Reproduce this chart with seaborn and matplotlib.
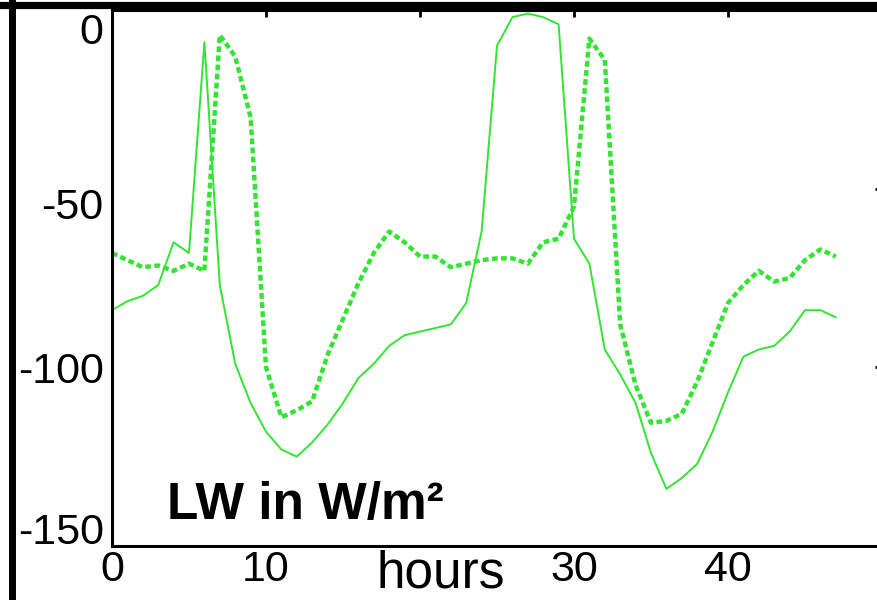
import matplotlib
matplotlib.use("Agg")
import matplotlib.pyplot as plt
import matplotlib.transforms as mtransforms
from matplotlib.lines import Line2D
import pandas as pd
import seaborn as sns

# Hourly longwave flux (W/m^2) for the two runs
hours = list(range(48))
lw_solid = [-84, -81.5, -80, -77, -65, -68, -9, -77, -99, -110,
            -118, -123, -125, -121, -116, -110, -103, -99, -94, -91,
            -90, -89, -88, -82, -62, -10, -2, -1, -2, -4,
            -64, -71, -95, -102, -110, -124, -134, -131, -127, -118,
            -107, -97, -95, -94, -90, -84, -84, -86]
lw_dotted = [-68, -70, -72, -71.5, -73, -71, -73, -7, -13, -30,
             -100, -114, -112, -109.5, -96.5, -86.5, -76.5, -68, -62, -65,
             -69, -69, -72, -71, -70, -69.5, -69.5, -71, -65, -64,
             -55, -8, -14, -88, -105, -115.5, -115, -113, -104, -93,
             -82, -77, -73, -76, -75, -70, -67, -69]

x_ticks = [0, 10, 20, 30, 40]
x_tick_labels = ["0", "10", "", "30", "40"]
y_ticks = [0, -50, -100, -150]
y_tick_labels = ["0", "-50", "-100", "-150"]

sns.set_theme(style="white")
plt.rcParams["font.family"] = ["Liberation Sans", "DejaVu Sans"]
plt.rcParams.update({"text.color": "black", "xtick.color": "black",
                     "ytick.color": "black", "axes.labelcolor": "black"})

W, H = 878, 600
fig = plt.figure(figsize=(W / 100, H / 100), dpi=100)
ax = fig.add_axes([112 / W, 54 / H, 770 / W, 536 / H])

green = "#33e433"
df = pd.DataFrame({"hour": hours, "solid": lw_solid, "dotted": lw_dotted})
sns.lineplot(data=df, x="hour", y="solid", ax=ax, color=green, lw=1.4)
sns.lineplot(data=df, x="hour", y="dotted", ax=ax, color=green, lw=3.2,
             dashes=(1.3, 0.75))
for ln in ax.get_lines()[1:]:
    ln.set_dash_capstyle("butt")

ax.set_xlim(0, 50)
ax.set_ylim(-150, 0)
ax.set_xlabel("")
ax.set_ylabel("")

ax.set_xticks(x_ticks)
ax.set_xticklabels(x_tick_labels)
ax.set_yticks(y_ticks)
ax.set_yticklabels(y_tick_labels)

ax.tick_params(axis="both", direction="in", length=5, width=2, color="black",
               labelcolor="black", top=True, right=True)
ax.tick_params(axis="x", labelsize=31, pad=3)
ax.tick_params(axis="y", labelsize=31, pad=6)

for side, sp in ax.spines.items():
    sp.set_color("black")
    sp.set_linewidth(2.2)
    sp.set_visible(True)

# nudge the y tick labels to where they sit in the layout
offsets_px = {"0": 18, "-50": 15, "-100": 0, "-150": -18}
for lab in ax.get_yticklabels():
    dy = offsets_px.get(lab.get_text(), 0)
    lab.set_transform(lab.get_transform() +
                      mtransforms.ScaledTranslation(0, -dy / 100, fig.dpi_scale_trans))

ax.text(3.6, -142.5, "LW in W/m²", fontsize=37, fontweight="bold",
        va="baseline", ha="left", color="black")
fig.text(377 / W, 1 / H, "hours", fontsize=37, va="bottom", ha="left",
         color="black")

# outer frame lines
fig.add_artist(Line2D([11.5 / W, 11.5 / W], [0, 1], transform=fig.transFigure,
                      color="black", lw=5))
fig.add_artist(Line2D([0, 1], [1 - 5 / H, 1 - 5 / H], transform=fig.transFigure,
                      color="black", lw=5.2))

fig.savefig("out.png", dpi=100, facecolor="white")
